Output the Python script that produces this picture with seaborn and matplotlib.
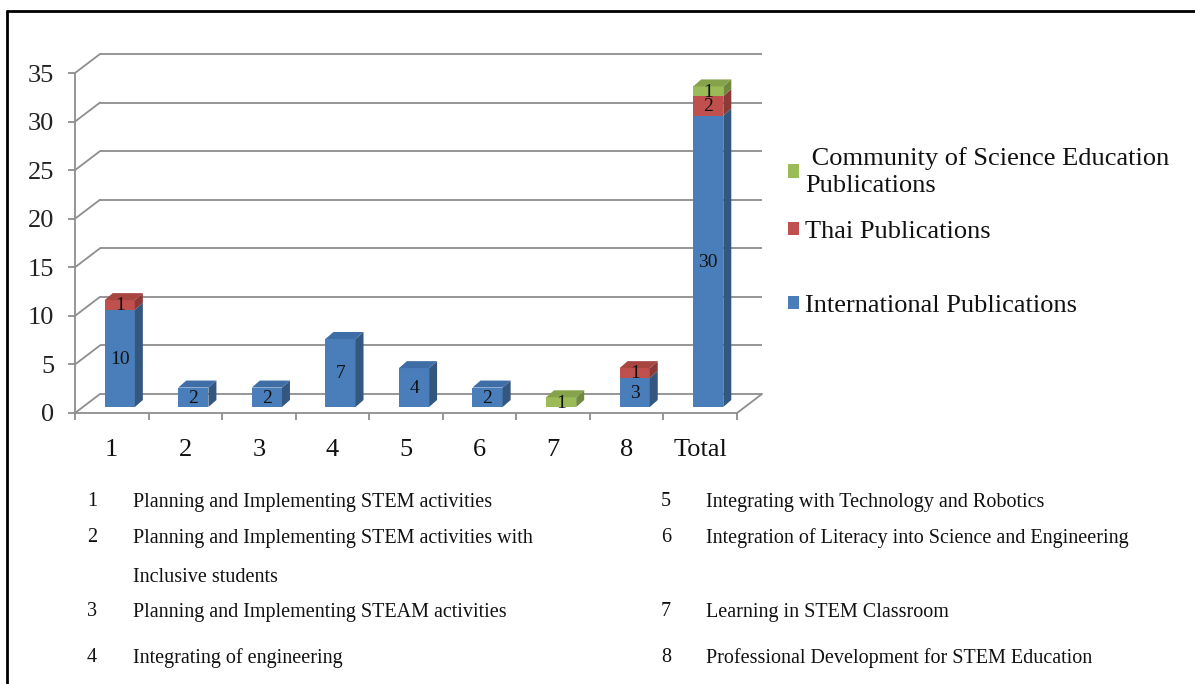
import numpy as np
import pandas as pd
import matplotlib.pyplot as plt
import seaborn as sns
from matplotlib.patches import Polygon
from matplotlib.lines import Line2D
from matplotlib.transforms import ScaledTranslation, IdentityTransform

# === Data ===
categories = ['1', '2', '3', '4', '5', '6', '7', '8', 'Total']
international = [10, 2, 2, 7, 4, 2, 0, 3, 30]
thai = [1, 0, 0, 0, 0, 0, 0, 1, 2]
community = [0, 0, 0, 0, 0, 0, 1, 0, 1]
series_names = ['International Publications', 'Thai Publications',
                ' Community of Science Education\nPublications']
yticks = [0, 5, 10, 15, 20, 25, 30, 35]

topics_left = [('1', 'Planning and Implementing STEM activities'),
               ('2', 'Planning and Implementing STEM activities with\nInclusive students'),
               ('3', 'Planning and Implementing STEAM activities'),
               ('4', 'Integrating of engineering')]
topics_right = [('5', 'Integrating with Technology and Robotics'),
                ('6', 'Integration of Literacy into Science and Engineering'),
                ('7', 'Learning in STEM Classroom'),
                ('8', 'Professional Development for STEM Education')]

# front / side / top colours per series
colors = [('#4A7EBB', '#34577F', '#3F6EA6'),
          ('#C0504D', '#8C3A38', '#A84541'),
          ('#9BBB59', '#71893F', '#86A34B')]
grid_c = '#8E8E8E'

sns.set_style('ticks')
plt.rcParams['font.family'] = ['Liberation Serif', 'DejaVu Serif']

W, H = 1195, 684
fig = plt.figure(figsize=(W / 100, H / 100), dpi=100)
ax = fig.add_axes([75 / W, 1 - 413 / H, (737 - 75) / W, (413 - 73) / H])

df = pd.DataFrame({'cat': categories, 'intl': international,
                   'thai': thai, 'comm': community})
series = ['intl', 'thai', 'comm']
bottoms = [np.zeros(len(df)), df['intl'].values.astype(float),
           (df['intl'] + df['thai']).values.astype(float)]

# bars sit a little behind the front plane
bar_off = ax.transData + ScaledTranslation(8 / 100, 6 / 100, fig.dpi_scale_trans)
wall_off = ax.transData + ScaledTranslation(25 / 100, 19 / 100, fig.dpi_scale_trans)

for i, s in enumerate(series):
    sns.barplot(data=df, x='cat', y=s, order=categories, color=colors[i][0],
                saturation=1, width=0.41, bottom=bottoms[i], errorbar=None,
                linewidth=0, edgecolor='none', label=series_names[i],
                legend=False, ax=ax, zorder=3 + i)
if ax.get_legend() is not None:
    ax.get_legend().remove()

ax.set_xlim(-0.5, len(categories) - 0.5)
ax.set_ylim(0, 35)
ax.set_yticks(yticks)

# back wall gridlines
ax.hlines(yticks, -0.5, len(categories) - 0.5, transform=wall_off,
          colors=grid_c, lw=1.3, clip_on=False, zorder=1)
# side wall / floor edges
ident = IdentityTransform()
fig.canvas.draw()
for y in yticks:
    x0, y0 = ax.transData.transform((-0.5, y))
    ax.add_line(Line2D([x0, x0 + 25], [y0, y0 + 19], transform=ident,
                       color=grid_c, lw=1.3, clip_on=False, zorder=1))
x0, y0 = ax.transData.transform((len(categories) - 0.5, 0))
ax.add_line(Line2D([x0, x0 + 25], [y0, y0 + 19], transform=ident,
                   color=grid_c, lw=1.3, clip_on=False, zorder=1))

# 3D faces and value labels
dx, dy = 8, 7
values = [international, thai, community]
tops = np.array(international) + np.array(thai) + np.array(community)
for i, cont in enumerate(ax.containers):
    front, side, top = colors[i]
    for j, p in enumerate(cont.patches):
        p.set_transform(bar_off)
        v = values[i][j]
        if v == 0:
            continue
        (xa, ya), (xb, yb) = p.get_transform().transform([(0, 0), (1, 1)])
        ax.add_patch(Polygon([(xb, ya), (xb, yb), (xb + dx, yb + dy), (xb + dx, ya + dy)],
                             closed=True, transform=ident, facecolor=side,
                             edgecolor='none', clip_on=False, zorder=3 + i))
        if bottoms[i][j] + v == tops[j]:
            ax.add_patch(Polygon([(xa, yb), (xb, yb), (xb + dx, yb + dy), (xa + dx, yb + dy)],
                                 closed=True, transform=ident, facecolor=top,
                                 edgecolor='none', clip_on=False, zorder=3 + i))
        ax.text((xa + xb) / 2, (ya + yb) / 2 - 1, str(v), transform=ident,
                ha='center', va='center', fontsize=14, color='#111111', zorder=10)

# axes styling
for sp in ['top', 'right']:
    ax.spines[sp].set_visible(False)
for sp in ['left', 'bottom']:
    ax.spines[sp].set_color(grid_c)
    ax.spines[sp].set_linewidth(1.3)
ax.set_xlabel('')
ax.set_ylabel('')
ax.set_xticks(np.arange(-0.5, len(categories)), minor=True)
ax.tick_params(axis='x', which='major', length=0, pad=19, labelsize=19, labelcolor='#111111')
ax.tick_params(axis='x', which='minor', length=5, width=1.3, color=grid_c, direction='out')
ax.tick_params(axis='y', which='major', length=5, width=1.3, color=grid_c,
               pad=10, labelsize=19, labelcolor='#222222')
ax.patch.set_alpha(0)

# legend, one entry per block so the uneven spacing can be kept
legend_y = [172, 232, 306]
for k, idx in enumerate([2, 1, 0]):
    leg = fig.legend([ax.containers[idx]], [series_names[idx]],
                     loc='center left', bbox_to_anchor=(788 / W, 1 - legend_y[k] / H),
                     frameon=False, fontsize=19, handlelength=0.4, handleheight=0.4,
                     handletextpad=0.25, borderaxespad=0, borderpad=0)
    for t in leg.get_texts():
        t.set_linespacing(1.35)
        t.set_color('#111111')

# topic descriptions below the chart
def put_topics(items, xn, xt, ys):
    for (num, txt), y in zip(items, ys):
        fig.text(xn / W, 1 - y / H, num, fontsize=14.5, va='center', ha='center', color='#111111')
        for k, line in enumerate(txt.split('\n')):
            fig.text(xt / W, 1 - (y + 39 * k) / H, line, fontsize=14.5,
                     va='center', ha='left', color='#111111')

put_topics(topics_left, 92, 133, [502, 538, 612, 658])
put_topics(topics_right, 666, 706, [502, 538, 612, 658])

# page frame
fig.add_artist(Line2D([7 / W, 7 / W], [0, 1 - 11 / H], transform=fig.transFigure, color='black', lw=2))
fig.add_artist(Line2D([7 / W, 1], [1 - 11 / H, 1 - 11 / H], transform=fig.transFigure, color='black', lw=2))

fig.savefig('out.png', dpi=100, facecolor='white')
